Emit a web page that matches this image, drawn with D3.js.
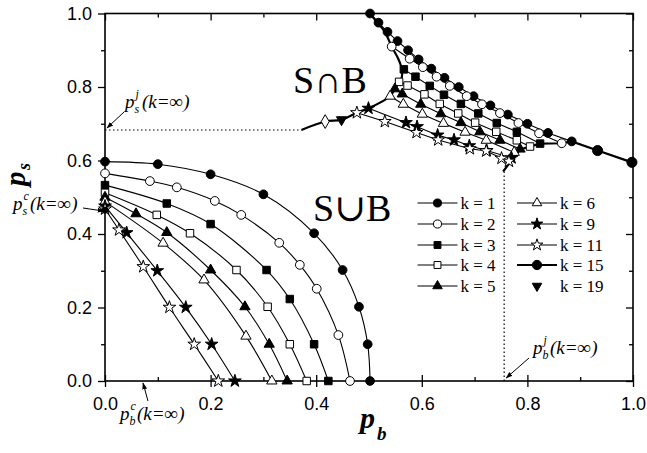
<!DOCTYPE html>
<html>
<head>
<meta charset="utf-8">
<script src="https://cdn.jsdelivr.net/npm/d3@7"></script>
<style>
  body { margin: 0; background: #fff; }
  svg { display: block; }
</style>
</head>
<body>
<svg id="chart" width="647" height="453"></svg>
<script>
// S∪B boundary (lower left) for each k, points are [p_b, p_s]
const low1 = [[0, 0.597], [0.1, 0.590], [0.2, 0.5625], [0.3, 0.508], [0.396, 0.402], [0.45, 0.302], [0.481, 0.202], [0.4975, 0.10], [0.502, 0.0]];
const low2 = [[0, 0.565], [0.085, 0.544], [0.136, 0.527], [0.208, 0.490], [0.258, 0.452], [0.33, 0.376], [0.369, 0.316], [0.401, 0.251], [0.442, 0.125], [0.464, 0.0]];
const low3 = [[0, 0.533], [0.117, 0.483], [0.2, 0.427], [0.306, 0.302], [0.350, 0.223], [0.396, 0.10], [0.423, 0.0]];
const low4 = [[0, 0.512], [0.098, 0.452], [0.161, 0.402], [0.249, 0.302], [0.308, 0.202], [0.350, 0.10], [0.382, 0.0]];
const low5 = [[0, 0.500], [0.0587, 0.455], [0.117, 0.404], [0.2, 0.302], [0.265, 0.202], [0.311, 0.10], [0.345, 0.0]];
const low6 = [[0, 0.488], [0.110, 0.375], [0.1875, 0.275], [0.267, 0.122], [0.316, 0.0]];
const low9 = [[0, 0.476], [0.041, 0.4035], [0.099, 0.300], [0.153, 0.2005], [0.202, 0.10], [0.246, 0.0]];
const low11 = [[0, 0.468], [0.0265, 0.411], [0.0725, 0.311], [0.122, 0.2005], [0.169, 0.10], [0.2146, 0.0]];

// S∩B boundary (upper right) for each k
const up1 = [[0.502, 1.0], [0.518, 0.975], [0.535, 0.95], [0.554, 0.925], [0.574, 0.90], [0.594, 0.875], [0.618, 0.85], [0.643, 0.825], [0.670, 0.80], [0.698, 0.775], [0.730, 0.75], [0.763, 0.725], [0.800, 0.70], [0.839, 0.675], [0.884, 0.652]];
const up2 = [[0.543, 0.91], [0.577, 0.877], [0.602, 0.854], [0.628, 0.828], [0.653, 0.803], [0.685, 0.775], [0.714, 0.753], [0.748, 0.729], [0.783, 0.702], [0.822, 0.674], [0.865, 0.647]];
const up3 = [[0.566, 0.848], [0.588, 0.828], [0.615, 0.803], [0.642, 0.779], [0.674, 0.754], [0.707, 0.728], [0.742, 0.702], [0.780, 0.678], [0.824, 0.646]];
const up4 = [[0.557, 0.814], [0.573, 0.804], [0.605, 0.78], [0.634, 0.754], [0.669, 0.728], [0.701, 0.703], [0.741, 0.678], [0.780, 0.655], [0.805, 0.638]];
const up5 = [[0.549, 0.795], [0.563, 0.781], [0.598, 0.753], [0.636, 0.727], [0.674, 0.703], [0.710, 0.678], [0.748, 0.655], [0.786, 0.631]];
const up6 = [[0.540, 0.775], [0.565, 0.753], [0.601, 0.726], [0.641, 0.701], [0.682, 0.677], [0.722, 0.655], [0.775, 0.622]];
const up9 = [[0.499, 0.742], [0.570, 0.703], [0.591, 0.692], [0.630, 0.669], [0.661, 0.656], [0.690, 0.640], [0.723, 0.627], [0.770, 0.607]];
const up11 = [[0.477, 0.730], [0.530, 0.706], [0.590, 0.676], [0.631, 0.656], [0.691, 0.632], [0.722, 0.626], [0.751, 0.606], [0.765, 0.598]];
const up15 = [[0.933, 0.627], [0.998, 0.595]];
const up19 = [[0.448, 0.711]];
const diamondPt = [[0.417, 0.706]];

// thick boundaries of the S∩B region
const edgeLeft = [[0.502, 1.0], [0.516, 0.975], [0.530, 0.95], [0.543, 0.91], [0.556, 0.875], [0.562, 0.85], [0.562, 0.825], [0.557, 0.812], [0.549, 0.795], [0.540, 0.775], [0.499, 0.742], [0.477, 0.730], [0.448, 0.711], [0.417, 0.706], [0.372, 0.683]];
const edgeRight = [[0.754, 0.570], [0.770, 0.600], [0.786, 0.630], [0.805, 0.638], [0.824, 0.646], [0.865, 0.647], [0.884, 0.652], [0.933, 0.627], [0.998, 0.595]];

// k = infinity limits
const psJ = 0.683, pbJ = 0.756, psC = 0.465, pbC = 0.072;

const majorTicks = [0, 0.2, 0.4, 0.6, 0.8, 1.0];
const minorTicks = [0.1, 0.3, 0.5, 0.7, 0.9];

const series = [
  { k: "1", type: d3.symbolCircle, open: false, size: 60, low: low1, up: up1 },
  { k: "2", type: d3.symbolCircle, open: true, size: 60, low: low2, up: up2 },
  { k: "3", type: d3.symbolSquare, open: false, size: 56, low: low3, up: up3 },
  { k: "4", type: d3.symbolSquare, open: true, size: 56, low: low4, up: up4 },
  { k: "5", type: d3.symbolTriangle, open: false, size: 46, low: low5, up: up5 },
  { k: "6", type: d3.symbolTriangle, open: true, size: 46, low: low6, up: up6 },
  { k: "9", type: d3.symbolStar, open: false, size: 50, low: low9, up: up9 },
  { k: "11", type: d3.symbolStar, open: true, size: 50, low: low11, up: up11 },
  { k: "15", type: d3.symbolCircle, open: false, size: 80, low: [], up: up15 },
  { k: "19", type: d3.symbolTriangle, open: false, size: 46, flip: true, low: [], up: up19 }
];

const svg = d3.select("#chart");
const x = d3.scaleLinear().domain([0, 1]).range([105, 633]);
const y = d3.scaleLinear().domain([0, 1]).range([381, 13.5]);

const serif = "'Liberation Serif','Times New Roman','DejaVu Serif',serif";
const sans = "'Liberation Sans',Arial,sans-serif";

svg.append("defs").append("marker")
  .attr("id", "arr").attr("viewBox", "0 0 10 10").attr("refX", 9).attr("refY", 5)
  .attr("markerWidth", 7).attr("markerHeight", 7).attr("orient", "auto")
  .append("path").attr("d", "M0,1.5L10,5L0,8.5z").attr("fill", "#000");

// axes
function styleAxis(g) {
  g.select(".domain").remove();
  g.selectAll(".tick line").attr("stroke", "#000").attr("stroke-width", 1.3);
  g.selectAll("text").attr("font-family", sans).attr("font-size", 18).attr("fill", "#000");
}
const bottom = svg.append("g").attr("transform", "translate(0,381)")
  .call(d3.axisBottom(x).tickValues(majorTicks).tickSize(6).tickPadding(10).tickFormat(d3.format(".1f")))
  .call(styleAxis);
bottom.selectAll(".tick line").attr("y1", -6).attr("y2", 6);
svg.append("g").attr("transform", "translate(0,381)")
  .call(d3.axisBottom(x).tickValues(minorTicks).tickSize(-4).tickFormat(""))
  .call(styleAxis);
svg.append("g").attr("transform", "translate(105,0)")
  .call(d3.axisLeft(y).tickValues(majorTicks).tickSize(7).tickPadding(6).tickFormat(d3.format(".1f")))
  .call(styleAxis);
svg.append("g").attr("transform", "translate(105,0)")
  .call(d3.axisLeft(y).tickValues(minorTicks).tickSize(4).tickFormat(""))
  .call(styleAxis);
svg.append("g").attr("transform", "translate(0,13.5)")
  .call(d3.axisTop(x).tickValues(majorTicks).tickSize(-7).tickFormat(""))
  .call(styleAxis);
svg.append("g").attr("transform", "translate(0,13.5)")
  .call(d3.axisTop(x).tickValues(minorTicks).tickSize(-4).tickFormat(""))
  .call(styleAxis);
svg.append("g").attr("transform", "translate(633,0)")
  .call(d3.axisRight(y).tickValues(majorTicks).tickSize(-7).tickFormat(""))
  .call(styleAxis);
svg.append("g").attr("transform", "translate(633,0)")
  .call(d3.axisRight(y).tickValues(minorTicks).tickSize(-4).tickFormat(""))
  .call(styleAxis);
svg.append("rect").attr("x", x(0)).attr("y", y(1)).attr("width", x(1) - x(0)).attr("height", y(0) - y(1))
  .attr("fill", "none").attr("stroke", "#000").attr("stroke-width", 1.6);

// dotted k=infinity lines
svg.append("line").attr("x1", x(0)).attr("x2", x(0.372)).attr("y1", y(psJ)).attr("y2", y(psJ))
  .attr("stroke", "#000").attr("stroke-width", 1.2).attr("stroke-dasharray", "1.5,2.5");
svg.append("line").attr("x1", x(pbJ)).attr("x2", x(pbJ)).attr("y1", y(0)).attr("y2", y(0.57))
  .attr("stroke", "#000").attr("stroke-width", 1.2).attr("stroke-dasharray", "1.5,2.5");

const smooth = d3.line().x(d => x(d[0])).y(d => y(d[1])).curve(d3.curveCatmullRom.alpha(0.5));
const straight = d3.line().x(d => x(d[0])).y(d => y(d[1]));

const lines = svg.append("g").attr("fill", "none").attr("stroke", "#000");
series.forEach(s => {
  if (s.low.length) lines.append("path").attr("d", smooth(s.low)).attr("stroke-width", 1.1);
  if (s.up.length > 1) lines.append("path").attr("d", straight(s.up)).attr("stroke-width", 1.1);
});
lines.append("path").attr("d", smooth(edgeLeft)).attr("stroke-width", 2.2);
lines.append("path").attr("d", straight(edgeRight)).attr("stroke-width", 2.2);

function drawSymbols(g, pts, s, scale) {
  g.selectAll(null).data(pts).enter().append("path")
    .attr("d", d3.symbol().type(s.type).size(s.size * (scale || 1)))
    .attr("transform", d => `translate(${x(d[0])},${y(d[1])})` + (s.flip ? " rotate(180)" : ""))
    .attr("fill", s.open ? "#fff" : "#000")
    .attr("stroke", "#000").attr("stroke-width", 1);
}
const marks = svg.append("g");
series.forEach(s => {
  drawSymbols(marks, s.low, s);
  drawSymbols(marks, s.up, s);
});
drawSymbols(marks, diamondPt, { type: d3.symbolDiamond, open: true, size: 55 });
drawSymbols(marks, [[0, psC]], { type: d3.symbolCircle, open: false, size: 30 });

// region labels
svg.append("text").attr("x", 293).attr("y", 93).attr("font-family", serif).attr("font-size", 38).text("S∩B");
svg.append("text").attr("x", 313).attr("y", 221).attr("font-family", serif).attr("font-size", 38).text("S∪B");

// legend
const legRows = [203, 224, 245, 265, 286];
series.forEach((s, i) => {
  const col = i < 5 ? 0 : 1;
  const cx = col ? 537 : 437.5;
  const ry = legRows[i % 5];
  const g = svg.append("g");
  if (s.k !== "19") {
    g.append("line").attr("x1", cx - 20).attr("x2", cx + 20).attr("y1", ry).attr("y2", ry)
      .attr("stroke", "#000").attr("stroke-width", s.k === "15" ? 1.8 : 1.1);
  }
  g.append("path").attr("d", d3.symbol().type(s.type).size(s.size * 0.85))
    .attr("transform", `translate(${cx},${ry})` + (s.flip ? " rotate(180)" : ""))
    .attr("fill", s.open ? "#fff" : "#000").attr("stroke", "#000").attr("stroke-width", 1);
  g.append("text").attr("x", cx + 23).attr("y", ry + 6).attr("font-family", serif).attr("font-size", 17)
    .text("k = " + s.k);
});

// annotations for k = infinity
function limitLabel(tx, ty, sub, sup) {
  const g = svg.append("g").attr("font-family", serif).attr("font-style", "italic");
  g.append("text").attr("x", tx).attr("y", ty).attr("font-size", 19).text("p");
  g.append("text").attr("x", tx + 9.5).attr("y", ty + 5).attr("font-size", 12).text(sub);
  g.append("text").attr("x", tx + 10.5).attr("y", ty - 10).attr("font-size", 12).text(sup);
  g.append("text").attr("x", tx + 17).attr("y", ty).attr("font-size", 19).text("(k=∞)");
}
function arrow(x1, y1, x2, y2) {
  svg.append("line").attr("x1", x1).attr("y1", y1).attr("x2", x2).attr("y2", y2)
    .attr("stroke", "#000").attr("stroke-width", 1).attr("marker-end", "url(#arr)");
}
limitLabel(125, 108, "s", "j");
arrow(124, 112, x(0) + 2, y(psJ) - 2);
limitLabel(13, 210, "s", "c");
arrow(83, 208, x(0) - 1, y(psC) + 1);
limitLabel(120, 420, "b", "c");
arrow(148, 401, x(pbC), y(0) + 2);
limitLabel(533, 354, "b", "j");
arrow(529, 358, x(pbJ) + 2, y(0) - 3);

// axis titles
const tb = svg.append("g").attr("font-family", serif).attr("font-style", "italic").attr("font-weight", "bold");
tb.append("text").attr("x", 360).attr("y", 428).attr("font-size", 30).text("p");
tb.append("text").attr("x", 377).attr("y", 440).attr("font-size", 19).text("b");
const ts = svg.append("g").attr("transform", "translate(25,186) rotate(-90)")
  .attr("font-family", serif).attr("font-style", "italic").attr("font-weight", "bold");
ts.append("text").attr("x", 0).attr("y", 0).attr("font-size", 29).text("p");
ts.append("text").attr("x", 16).attr("y", 5).attr("font-size", 18).text("s");
</script>
</body>
</html>
